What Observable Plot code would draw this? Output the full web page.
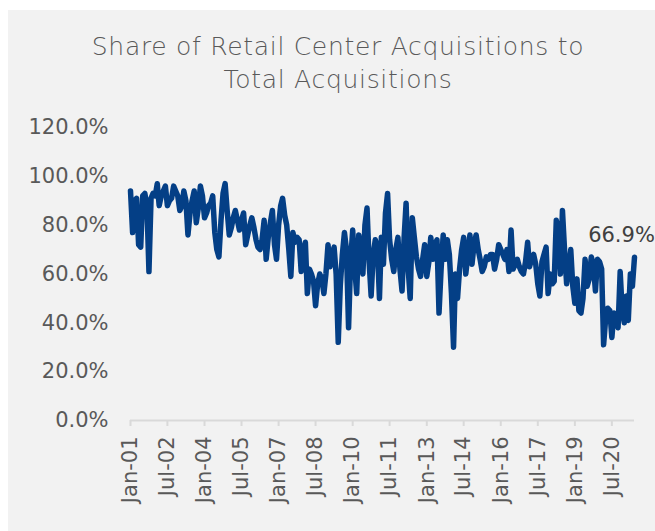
<!DOCTYPE html>
<html>
<head>
<meta charset="utf-8">
<script src="https://cdn.jsdelivr.net/npm/d3@7"></script>
<script src="https://cdn.jsdelivr.net/npm/@observablehq/plot@0.6"></script>
<style>
  html, body { margin: 0; padding: 0; background: #ffffff; width: 655px; height: 531px; overflow: hidden; }
  #bg { position: absolute; left: 8px; top: 10px; right: 0; bottom: 0; width: 647px; height: 521px; background: #f2f2f2; }
  #title { position: absolute; left: 8px; top: 30px; width: 660px; text-align: center; font-family: "DejaVu Sans", sans-serif; font-weight: 300; font-size: 25px; letter-spacing: 0.7px; line-height: 33px; color: #595959; }
  #chart { position: absolute; left: 0; top: 105px; }
</style>
</head>
<body>
<div id="bg"></div>
<div id="title">Share of Retail Center Acquisitions to<br>Total Acquisitions</div>
<div id="chart"></div>
<script>
// Monthly share (%) of retail center acquisitions, Jan 2001 – Jun 2021
const startMonth = "Jan-01";
const endMonth = "Jun-21";
const shareValues = [
  94, 77, 90, 91, 72, 71, 92, 93, 88, 61,
  91, 93, 92, 97, 88, 92, 94, 96, 88, 90,
  91, 96, 94, 92, 86, 88, 94, 90, 76, 85,
  90, 94, 81, 87, 96, 92, 83, 85, 88, 89,
  92, 77, 70, 67, 82, 93, 97, 86, 76, 79,
  83, 86, 82, 78, 82, 85, 72, 76, 80, 83,
  79, 74, 71, 70, 74, 82, 66, 75, 81, 86,
  72, 66, 80, 88, 91, 84, 80, 70, 59, 77,
  73, 75, 74, 61, 70, 73, 52, 62, 60, 57,
  47, 56, 60, 58, 52, 60, 72, 63, 68, 71,
  60, 32, 55, 68, 77, 70, 38, 65, 78, 62,
  52, 76, 70, 60, 80, 87, 65, 51, 68, 74,
  71, 50, 75, 64, 85, 93, 74, 66, 61, 70,
  75, 62, 53, 75, 89, 62, 50, 83, 75, 67,
  62, 59, 66, 72, 59, 65, 75, 66, 72, 74,
  44, 62, 76, 66, 74, 68, 52, 30, 60, 50,
  62, 70, 75, 60, 68, 76, 64, 72, 76, 70,
  66, 61, 63, 67, 66, 68, 68, 62, 66, 72,
  70, 68, 66, 70, 61, 78, 62, 64, 66, 63,
  61, 60, 65, 73, 63, 66, 68, 64, 56, 51,
  65, 68, 71, 52, 60, 56, 57, 82, 78, 60,
  86, 70, 56, 62, 70, 55, 48, 58, 45, 44,
  50, 66, 55, 58, 67, 64, 53, 66, 65, 62,
  31, 42, 46, 45, 34, 44, 42, 38, 61, 45,
  40, 51, 41, 60, 55, 66.9
];
const xTickLabels = ["Jan-01","Jul-02","Jan-04","Jul-05","Jan-07","Jul-08","Jan-10","Jul-11","Jan-13","Jul-14","Jan-16","Jul-17","Jan-19","Jul-20"];
const yTickValues = [0, 20, 40, 60, 80, 100, 120];

const parseMonth = d3.utcParse("%b-%y");
const months = d3.utcMonth.range(parseMonth(startMonth), d3.utcMonth.offset(parseMonth(endMonth), 1));
const data = months.map((date, i) => ({date, value: shareValues[i]}));
const last = data[data.length - 1];
const tickDates = xTickLabels.map(parseMonth);

const chart = Plot.plot({
  width: 655,
  height: 426,
  marginTop: 22,
  marginBottom: 111,
  marginLeft: 130,
  marginRight: 21,
  style: {background: "transparent", fontFamily: "DejaVu Sans, sans-serif", overflow: "visible"},
  x: {type: "utc", domain: [months[0], months[months.length - 1]]},
  y: {domain: [0, 120]},
  marks: [
    Plot.ruleY([0], {stroke: "#d9d9d9", strokeWidth: 2}),
    Plot.axisX({
      ticks: tickDates,
      tickFormat: d3.utcFormat("%b-%y"),
      tickRotate: -90,
      tickSize: 6,
      tickPadding: 10,
      stroke: "#d9d9d9",
      strokeWidth: 2,
      strokeOpacity: 1,
      fill: "#595959",
      fontSize: 21,
      label: null
    }),
    Plot.axisY({
      ticks: yTickValues,
      tickFormat: d => d.toFixed(1) + "%",
      tickSize: 0,
      tickPadding: 22,
      fill: "#595959",
      fontSize: 21,
      letterSpacing: 0.6,
      label: null
    }),
    Plot.lineY(data, {x: "date", y: "value", stroke: "#043f86", strokeWidth: 5.5, strokeLinejoin: "round", strokeLinecap: "round"}),
    Plot.text([last], {x: "date", y: "value", text: d => d.value.toFixed(1) + "%", dx: -13, dy: -22, fontSize: 21, fill: "#404040"})
  ]
});
document.getElementById("chart").appendChild(chart);
</script>
</body>
</html>
